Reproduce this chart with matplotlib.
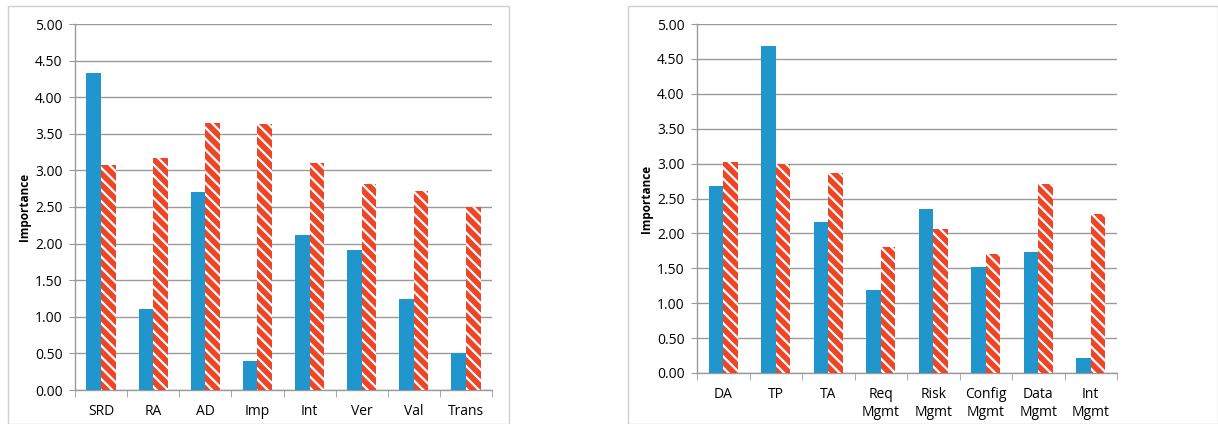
import numpy as np
import matplotlib
matplotlib.use("Agg")
import matplotlib.pyplot as plt
from matplotlib.patches import Rectangle

# Left panel: phases
left_labels = ["SRD", "RA", "AD", "Imp", "Int", "Ver", "Val", "Trans"]
left_blue = [4.33, 1.10, 2.71, 0.40, 2.12, 1.91, 1.24, 0.50]
left_red = [3.07, 3.17, 3.65, 3.63, 3.10, 2.81, 2.72, 2.50]

# Right panel: activities
right_labels = ["DA", "TP", "TA", "Req\nMgmt", "Risk\nMgmt", "Config\nMgmt", "Data\nMgmt", "Int\nMgmt"]
right_blue = [2.68, 4.68, 2.16, 1.19, 2.35, 1.52, 1.73, 0.22]
right_red = [3.03, 3.00, 2.86, 1.81, 2.06, 1.70, 2.71, 2.28]

BLUE = "#2196cc"
RED = "#ee4526"
GRID = "#9a9a9a"

plt.rcParams["hatch.linewidth"] = 1.6
plt.rcParams["font.family"] = ["Open Sans", "DejaVu Sans"]

W, H = 1218, 424
fig = plt.figure(figsize=(W / 100, H / 100), dpi=100)


def px(x0, y0, x1, y1):
    return [x0 / W, 1 - y1 / H, (x1 - x0) / W, (y1 - y0) / H]


def draw(ax, labels, blue, red):
    n = len(labels)
    x = np.arange(n)
    w = 0.28
    ax.bar(x - w / 2, blue, w, color=BLUE, zorder=3, linewidth=0)
    ax.bar(x + w / 2, red, w, facecolor=RED, edgecolor="white",
           hatch="\\\\\\", linewidth=0, zorder=3)
    ax.set_xlim(-0.5, n - 0.5)
    ax.set_ylim(0, 5)
    ax.set_yticks(np.arange(0, 5.01, 0.5))
    ax.set_yticklabels([f"{v:.2f}" for v in np.arange(0, 5.01, 0.5)], fontsize=10)
    ax.yaxis.grid(True, color=GRID, linewidth=1.0, zorder=0)
    ax.set_axisbelow(True)
    ax.set_xticks(x)
    ax.set_xticklabels(labels, fontsize=10, linespacing=1.25)
    ax.set_xticks(np.arange(-0.5, n, 1), minor=True)
    ax.tick_params(axis="x", which="major", length=0, pad=10)
    ax.tick_params(axis="x", which="minor", length=5, color=GRID, direction="out")
    ax.tick_params(axis="y", length=4, color=GRID, direction="out", pad=5)
    for s in ["top", "right"]:
        ax.spines[s].set_visible(False)
    for s in ["left", "bottom"]:
        ax.spines[s].set_color(GRID)
        ax.spines[s].set_linewidth(1.0)
    ax.set_ylabel("Importance", fontsize=8.5, fontweight="bold", labelpad=3)


# panel frames
fig.add_artist(Rectangle((8 / W, 0), (501) / W, 1 - 6 / H, transform=fig.transFigure,
                         fill=False, edgecolor="#cfcfcf", linewidth=1.0))
fig.add_artist(Rectangle((628 / W, 0), (590) / W, 1 - 6 / H, transform=fig.transFigure,
                         fill=False, edgecolor="#cfcfcf", linewidth=1.0))

ax1 = fig.add_axes(px(75, 24, 492, 390))
draw(ax1, left_labels, left_blue, left_red)

ax2 = fig.add_axes(px(697, 24, 1117, 373))
draw(ax2, right_labels, right_blue, right_red)

fig.savefig("out.png", dpi=100)
